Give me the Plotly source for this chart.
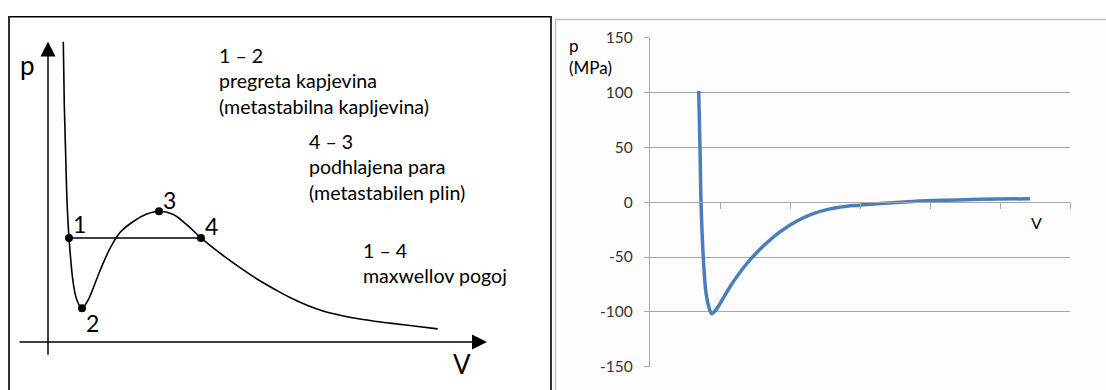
import plotly.graph_objects as go

W, H = 1106, 390
FONT = "Lato"

# ---------------- Left panel: schematic van der Waals isotherm (arbitrary units) ----------------
sch_V = [15.3, 16.3, 17.7, 19.0, 21.0, 25.3, 28.7, 33.7, 38.7, 42.0, 52.0, 62.0, 72.0, 85.3, 98.7,
         111.0, 125.3, 138.7, 153.0, 172.0, 192.0, 209.0, 227.0, 242.0, 259.0, 275.0, 292.0,
         309.0, 325.0, 342.0, 366.0, 389.7]
sch_p = [314.7, 248.0, 195.0, 148.0, 109.0, 61.3, 44.7, 35.3, 41.3, 48.0, 74.7, 98.0, 114.7, 126.3, 134.0,
         137.0, 133.7, 123.0, 109.0, 93.0, 78.0, 66.0, 55.0, 46.5, 38.5, 32.5, 28.0,
         24.5, 22.0, 19.7, 16.7, 13.7]
pt_labels = ["1", "2", "3", "4"]
pt_V = [21.0, 34.0, 111.0, 153.0]
pt_p = [109.0, 35.3, 137.0, 109.0]
maxwell_V = [21.0, 153.0]
maxwell_p = [109.0, 109.0]

notes = [
    "1 – 2<br>pregreta kapjevina<br>(metastabilna kapljevina)",
    "4 – 3<br>podhlajena para<br>(metastabilen plin)",
    "1 – 4<br>maxwellov pogoj",
]

# ---------------- Right panel: computed isotherm ----------------
V_vals = [0.696, 0.714, 0.729, 0.761, 0.800, 0.843, 0.881, 0.953, 1.143, 1.381, 1.619, 1.857,
          2.119, 2.333, 2.571, 2.810, 3.000, 3.286, 3.761, 4.239, 4.714, 5.429]
p_vals = [101.3, 50.6, 0.0, -50.0, -82.8, -96.0, -101.6, -97.2, -77.0, -56.1, -40.0, -27.0,
          -16.5, -10.4, -6.1, -3.7, -2.7, -1.1, 0.7, 1.8, 2.6, 3.2]
y_ticks = [-150, -100, -50, 0, 50, 100, 150]
y_tick_text = ["-150", "-100", "-50", "0", "50", "100", "150"]
x_ticks = [1, 2, 3, 4, 5, 6]

fig = go.Figure()

# left curve
fig.add_trace(go.Scatter(x=sch_V, y=sch_p, mode="lines",
                         line=dict(color="black", width=1.6, shape="spline", smoothing=1.0),
                         xaxis="x", yaxis="y", hoverinfo="skip"))
fig.add_trace(go.Scatter(x=maxwell_V, y=maxwell_p, mode="lines",
                         line=dict(color="black", width=1.5),
                         xaxis="x", yaxis="y", hoverinfo="skip"))
fig.add_trace(go.Scatter(x=pt_V, y=pt_p, mode="markers",
                         marker=dict(color="black", size=8),
                         xaxis="x", yaxis="y", hoverinfo="skip"))

# right curve
fig.add_trace(go.Scatter(x=V_vals, y=p_vals, mode="lines",
                         line=dict(color="#4a7ebb", width=3.5, shape="spline", smoothing=1.0),
                         xaxis="x2", yaxis="y2", hoverinfo="skip"))

annotations = []
# axis arrows of the schematic
annotations.append(dict(x=0, y=315, ax=0, ay=-15, xref="x", yref="y", axref="x", ayref="y",
                        text="", showarrow=True, arrowhead=2, arrowsize=2, arrowwidth=1.5,
                        arrowcolor="black"))
annotations.append(dict(x=439, y=0, ax=-30, ay=0, xref="x", yref="y", axref="x", ayref="y",
                        text="", showarrow=True, arrowhead=2, arrowsize=2, arrowwidth=1.5,
                        arrowcolor="black"))
# point numbers
shifts = [(10, 14), (10, -15), (10, 11), (10, 12)]
for lab, v, p, (dx, dy) in zip(pt_labels, pt_V, pt_p, shifts):
    annotations.append(dict(x=v, y=p, xref="x", yref="y", text=lab, showarrow=False,
                            xanchor="center", yanchor="middle", xshift=dx, yshift=dy,
                            font=dict(family=FONT, size=23, color="black")))
# axis letters
annotations.append(dict(x=27 / W, y=1 - 58 / H, xref="paper", yref="paper", text="p",
                        showarrow=False, xanchor="center", yanchor="middle",
                        font=dict(family=FONT, size=26, color="black")))
annotations.append(dict(x=462 / W, y=1 - 371 / H, xref="paper", yref="paper", text="V",
                        showarrow=False, xanchor="center", yanchor="middle",
                        font=dict(family=FONT, size=26, color="black")))
# explanatory notes
note_pos = [(217, 74), (307, 165), (361, 265)]
for txt, (nx, ny) in zip(notes, note_pos):
    annotations.append(dict(x=nx / W, y=1 - ny / H, xref="paper", yref="paper", text=txt,
                            showarrow=False, xanchor="left", yanchor="middle", align="left",
                            font=dict(family=FONT, size=19.6, color="black")))
# right panel labels
annotations.append(dict(x=567 / W, y=1 - 49 / H, xref="paper", yref="paper", text="p<br>(MPa)",
                        showarrow=False, xanchor="left", yanchor="middle", align="left",
                        font=dict(family=FONT, size=17, color="black")))
annotations.append(dict(x=1036 / W, y=1 - 223 / H, xref="paper", yref="paper", text="V",
                        showarrow=False, xanchor="center", yanchor="middle",
                        font=dict(family=FONT, size=16, color="black")))

shapes = [
    dict(type="rect", xref="paper", yref="paper", x0=555.5 / W, x1=1.02, y0=-0.05, y1=1 - 10 / H,
         line=dict(color="#bdbdbd", width=1.5), fillcolor="#fdfdfd", layer="below"),
    dict(type="rect", xref="paper", yref="paper", x0=9 / W, x1=551 / W, y0=-0.05, y1=1 - 7 / H,
         line=dict(color="black", width=1.6), fillcolor="rgba(0,0,0,0)", layer="below"),
]

p0 = 16 / H + (361 - 16) / H / 2

fig.update_layout(
    width=W, height=H, margin=dict(l=0, r=0, t=0, b=0),
    paper_bgcolor="white", plot_bgcolor="rgba(0,0,0,0)", showlegend=False,
    font=dict(family=FONT),
    xaxis=dict(domain=[0, 551 / W], range=[-48, 503], visible=False, fixedrange=True),
    yaxis=dict(domain=[0, 1], range=[-42, 348], visible=False, fixedrange=True),
    xaxis2=dict(domain=[650 / W, 1070 / W], range=[0, 6], anchor="free", position=p0,
                showline=True, linecolor="#a6a6a6", linewidth=1.2, ticks="outside",
                tickvals=x_ticks, ticklen=6, tickcolor="#a6a6a6", showticklabels=False,
                showgrid=False, zeroline=False, fixedrange=True),
    yaxis2=dict(domain=[16 / H, 361 / H], range=[-150, 150], anchor="x2",
                tickvals=y_ticks, ticktext=y_tick_text, showline=True, linecolor="#a6a6a6",
                linewidth=1.2, ticks="outside", ticklen=5, tickcolor="#a6a6a6",
                showgrid=True, gridcolor="#a6a6a6", gridwidth=1.2, zeroline=False,
                ticklabelstandoff=8, fixedrange=True,
                tickfont=dict(family=FONT, size=15.5, color="#333333")),
    annotations=annotations, shapes=shapes,
)

post = (
    "var gd=document.getElementById('{plot_id}');"
    "gd.style.position='fixed';gd.style.top='0px';gd.style.left='0px';"
    "document.body.style.margin='0px';document.body.style.overflow='hidden';"
    "document.documentElement.style.overflow='hidden';"
)
fig.write_html("out.html", config={"displayModeBar": False}, post_script=post)
